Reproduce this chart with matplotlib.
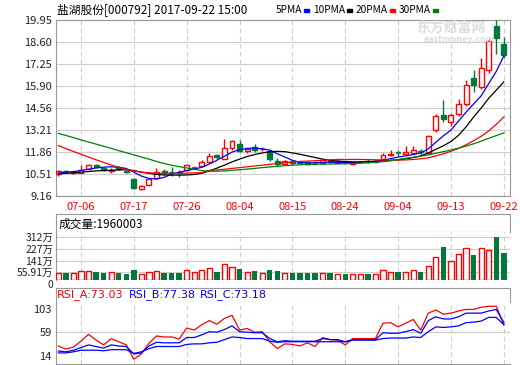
import numpy as np
import pandas as pd
import matplotlib
matplotlib.use('Agg')
import matplotlib.pyplot as plt
from matplotlib.patches import Rectangle

plt.rcParams['font.family'] = ['Noto Sans CJK SC', 'DejaVu Sans']

# 60 trading days, 2017-07-03 .. 2017-09-22
dates = pd.bdate_range('2017-07-03', '2017-09-22')
tick_idx = list(range(3, 60, 7))
tick_lab = [dates[i].strftime('%m-%d') for i in tick_idx]

opens = [10.52, 10.68, 10.60, 10.58, 10.84, 11.07, 10.86, 10.70, 10.93, 10.70,
         10.20, 9.60, 9.86, 10.26, 10.70, 10.66, 10.64, 10.78, 10.90, 10.97,
         11.27, 11.69, 11.44, 12.10, 12.37, 11.92, 12.14, 12.02, 11.89, 11.32,
         11.12, 11.28, 11.22, 11.24, 11.20, 11.18, 11.30, 11.20, 11.28, 11.10,
         11.22, 11.30, 11.24, 11.40, 11.70, 11.80, 11.74, 11.80, 11.90, 11.80,
         13.23, 14.15, 13.70, 14.20, 14.77, 16.41, 15.86, 16.86, 19.56, 18.47]
closes = [10.70, 10.64, 10.64, 10.78, 11.07, 10.95, 10.77, 10.73, 10.82, 10.66,
          9.62, 9.80, 10.20, 10.62, 10.66, 10.62, 10.60, 11.03, 10.93, 11.24,
          11.63, 11.54, 12.10, 12.51, 11.89, 12.05, 11.98, 12.06, 11.40, 11.13,
          11.30, 11.18, 11.18, 11.14, 11.17, 11.38, 11.22, 11.32, 11.24, 11.22,
          11.25, 11.24, 11.32, 11.68, 11.76, 11.78, 11.84, 11.95, 11.86, 12.86,
          14.09, 13.91, 14.15, 14.83, 15.94, 15.96, 17.03, 18.67, 18.84, 17.79]
highs = [10.78, 10.75, 10.72, 11.03, 11.12, 11.12, 10.92, 10.85, 10.98, 10.75,
         10.25, 9.83, 10.25, 10.89, 10.82, 10.93, 10.78, 11.05, 11.00, 11.37,
         11.78, 11.72, 12.67, 12.60, 12.60, 12.12, 12.37, 12.15, 11.98, 11.50,
         11.35, 11.32, 11.30, 11.28, 11.28, 11.42, 11.34, 11.40, 11.32, 11.26,
         11.30, 11.40, 11.35, 11.80, 12.00, 12.00, 12.20, 12.22, 12.05, 12.90,
         14.20, 15.02, 14.25, 15.13, 16.30, 16.88, 17.60, 18.78, 19.95, 18.90]
lows = [10.40, 10.55, 10.50, 10.55, 10.80, 10.92, 10.72, 10.55, 10.78, 10.60,
        9.58, 9.52, 9.82, 10.22, 10.42, 10.40, 10.32, 10.70, 10.80, 10.93,
        11.22, 11.42, 11.40, 12.00, 11.85, 11.82, 11.85, 11.92, 11.32, 11.00,
        11.05, 11.05, 11.10, 11.08, 11.05, 11.15, 11.18, 11.18, 11.15, 11.05,
        11.18, 11.20, 11.22, 11.38, 11.60, 11.62, 11.70, 11.75, 11.70, 11.76,
        13.10, 13.70, 13.45, 14.05, 14.70, 15.55, 15.75, 16.70, 17.85, 17.60]

ma5 = [10.57, 10.62, 10.66, 10.72, 10.80, 10.88, 10.93, 10.95, 10.92, 10.85,
       10.62, 10.38, 10.24, 10.20, 10.30, 10.50, 10.62, 10.72, 10.82, 10.92,
       11.12, 11.35, 11.60, 11.85, 12.00, 12.08, 12.10, 12.05, 11.98, 11.75,
       11.55, 11.35, 11.22, 11.18, 11.20, 11.22, 11.24, 11.22, 11.20, 11.22,
       11.24, 11.26, 11.30, 11.35, 11.45, 11.55, 11.62, 11.70, 11.80, 12.05,
       12.45, 12.85, 13.20, 13.75, 14.30, 14.80, 15.30, 16.05, 16.80, 17.75]
ma10 = [10.52, 10.55, 10.58, 10.62, 10.66, 10.70, 10.72, 10.74, 10.76, 10.77,
        10.72, 10.62, 10.55, 10.48, 10.45, 10.44, 10.44, 10.45, 10.48, 10.55,
        10.70, 10.87, 11.05, 11.25, 11.42, 11.58, 11.70, 11.80, 11.87, 11.90,
        11.88, 11.80, 11.72, 11.62, 11.52, 11.42, 11.35, 11.30, 11.27, 11.25,
        11.24, 11.25, 11.27, 11.30, 11.34, 11.38, 11.44, 11.52, 11.62, 11.80,
        12.02, 12.24, 12.50, 12.88, 13.40, 14.00, 14.55, 15.15, 15.65, 16.15]
ma20 = [12.25, 12.07, 11.89, 11.72, 11.55, 11.38, 11.22, 11.06, 10.92, 10.80,
        10.70, 10.62, 10.58, 10.56, 10.55, 10.55, 10.55, 10.56, 10.58, 10.60,
        10.73, 10.76, 10.80, 10.85, 10.90, 10.95, 11.00, 11.05, 11.10, 11.15,
        11.20, 11.25, 11.28, 11.30, 11.32, 11.35, 11.38, 11.40, 11.40, 11.40,
        11.40, 11.39, 11.38, 11.37, 11.36, 11.36, 11.37, 11.40, 11.44, 11.50,
        11.62, 11.75, 11.90, 12.08, 12.30, 12.55, 12.82, 13.15, 13.55, 14.00]
ma30 = [13.00, 12.87, 12.74, 12.60, 12.47, 12.34, 12.21, 12.08, 11.94, 11.81,
        11.68, 11.55, 11.42, 11.28, 11.15, 11.05, 10.96, 10.88, 10.80, 10.72,
        10.68, 10.68, 10.70, 10.73, 10.77, 10.81, 10.85, 10.90, 10.94, 10.98,
        11.02, 11.05, 11.07, 11.09, 11.10, 11.11, 11.12, 11.13, 11.14, 11.15,
        11.17, 11.20, 11.23, 11.27, 11.32, 11.40, 11.47, 11.53, 11.60, 11.68,
        11.78, 11.88, 11.98, 12.10, 12.22, 12.36, 12.52, 12.70, 12.86, 13.03]

# volume in 万
volume = [49, 49, 49, 65, 65, 58, 51, 56, 51, 44,
          73, 41, 56, 63, 51, 51, 51, 70, 56, 70,
          85, 58, 114, 97, 80, 58, 65, 49, 73, 65,
          49, 51, 51, 51, 51, 49, 51, 41, 44, 41,
          41, 44, 41, 73, 56, 58, 56, 70, 58, 99,
          169, 240, 136, 187, 230, 182, 230, 216, 312, 196]

rsi_a = [33, 27, 31, 42, 55, 44, 35, 47, 41, 35,
         8, 18, 38, 52, 50, 50, 46, 67, 63, 73,
         81, 74, 85, 91, 63, 66, 59, 60, 41, 28,
         37, 36, 33, 39, 32, 49, 45, 44, 35, 47,
         47, 47, 47, 76, 77, 69, 76, 83, 63, 95,
         101, 93, 95, 99, 102, 102, 106, 108, 108, 73.03]
rsi_b = [23.5, 22, 25, 30, 35, 32, 29, 35, 33, 32,
         18, 20, 33, 40, 39, 39, 39, 49, 49, 54,
         60, 59, 64, 71, 60, 59, 58, 58, 47, 41,
         43, 42, 42, 42, 42, 47, 45, 45, 41, 45,
         45, 45, 45, 58, 57, 57, 60, 64, 57, 81,
         88, 84, 84, 88, 95, 95, 95, 99, 102, 77.38]
rsi_c = [20, 20, 22, 25, 25, 25, 24, 26, 26, 26,
         19, 22, 28, 32, 32, 32, 32, 36, 37, 37,
         39, 40, 45, 50, 49, 47, 47, 47, 42, 40,
         41, 41, 41, 41, 41, 41, 41, 41, 41, 44,
         44, 44, 44, 47, 48, 48, 48, 50, 49, 60,
         69, 68, 69, 71, 77, 78, 80, 87, 87, 73.18]

price_ticks = [9.16, 10.51, 11.86, 13.21, 14.56, 15.90, 17.25, 18.60, 19.95]
vol_ticks = [0, 55.91, 141, 227, 312]
vol_labels = ['0', '55.91万', '141万', '227万', '312万']
rsi_ticks = [14, 59, 103]

UP = '#ff0000'
DOWN = '#00793a'
GRID = '#cccccc'
EDGE = '#999999'
W, H = 520, 365


def box(l, t, r, b):
    return [l / W, 1 - b / H, (r - l) / W, (b - t) / H]


fig = plt.figure(figsize=(W / 100, H / 100), dpi=100)
fig.patch.set_facecolor('white')

x = np.arange(len(dates))
xlim = (-0.31, 59.82)

# ---- price panel
ax = fig.add_axes(box(56, 20, 510, 196))
for i in x:
    o, c, h, l = opens[i], closes[i], highs[i], lows[i]
    up = c >= o
    col = UP if up else DOWN
    lo, hi = min(o, c), max(o, c)
    ax.vlines(i, l, lo, color=col, lw=1, zorder=3)
    ax.vlines(i, hi, h, color=col, lw=1, zorder=3)
    if hi - lo < 0.03:
        ax.hlines(o, i - 0.33, i + 0.33, color=col, lw=1.2, zorder=4)
    else:
        ax.add_patch(Rectangle((i - 0.33, lo), 0.66, hi - lo,
                               facecolor='white' if up else DOWN,
                               edgecolor=col, lw=1, zorder=4))
ax.plot(x, ma5, color='#0000ff', lw=0.9, zorder=5)
ax.plot(x, ma10, color='black', lw=0.9, zorder=5)
ax.plot(x, ma20, color='#ff0000', lw=0.9, zorder=5)
ax.plot(x, ma30, color='#008000', lw=0.9, zorder=5)
ax.set_xlim(xlim)
ax.set_ylim(9.16, 19.95)
ax.set_yticks(price_ticks)
ax.set_yticklabels(['%.2f' % v for v in price_ticks])
ax.set_xticks(tick_idx)
ax.set_xticklabels(tick_lab, color=UP)
ax.tick_params(length=0, labelsize=8, pad=3, colors='#222222')
ax.tick_params(axis='x', labelcolor=UP, pad=4)
ax.grid(axis='y', color=GRID, lw=0.8)
ax.grid(axis='x', color=GRID, lw=0.8, ls=(0, (4, 3)))
ax.set_axisbelow(True)
for s in ax.spines.values():
    s.set_color(EDGE)

fig.text(57 / W, 1 - 10 / H, '盐湖股份[000792] 2017-09-22 15:00',
         fontsize=8.5, va='center', ha='left')
legend = [('5PMA', '#0000ff', 276, 304), ('10PMA', 'black', 313, 347),
          ('20PMA', '#ff0000', 356, 390), ('30PMA', '#008000', 399, 433)]
for name, col, px, dx in legend:
    fig.text(px / W, 1 - 10 / H, name, fontsize=7.3, va='center', ha='left')
    fig.patches.append(Rectangle((dx / W, 1 - 12 / H), 5 / W, 3 / H,
                                 color=col, transform=fig.transFigure, figure=fig))
fig.text(416 / W, 1 - 28 / H, '东方财富网', fontsize=10, color='#dddddd',
         va='center', ha='left', weight='bold')
fig.text(424 / W, 1 - 40 / H, 'eastmoney.com', fontsize=6.5, color='#dddddd',
         va='center', ha='left', weight='bold')

# ---- volume header + panel
axvh = fig.add_axes(box(56, 214, 510, 232))
axvh.set_xticks([]); axvh.set_yticks([])
for s in axvh.spines.values():
    s.set_color(EDGE)
axvh.text(0.005, 0.45, '成交量:1960003', fontsize=8.5, va='center', ha='left',
          transform=axvh.transAxes)

axv = fig.add_axes(box(56, 232, 510, 280))
for i in x:
    up = closes[i] >= opens[i]
    if up:
        axv.bar(i, volume[i], width=0.68, facecolor='white', edgecolor=UP, lw=1, zorder=3)
    else:
        axv.bar(i, volume[i], width=0.72, color=DOWN, zorder=3)
axv.set_xlim(xlim)
axv.set_ylim(0, 348)
axv.set_yticks(vol_ticks)
axv.set_yticklabels(vol_labels)
axv.set_xticks(tick_idx)
axv.set_xticklabels([])
axv.tick_params(length=0, labelsize=7.5, pad=2, colors='#222222')
lab0 = axv.get_yticklabels()[0]
lab0.set_va('top')
axv.grid(axis='y', color=GRID, lw=0.8)
axv.grid(axis='x', color=GRID, lw=0.8, ls=(0, (4, 3)))
axv.set_axisbelow(True)
for k in ['right', 'bottom', 'top']:
    axv.spines[k].set_visible(False)
axv.spines['left'].set_color(EDGE)

# ---- RSI header + panel
axrh = fig.add_axes(box(56, 288, 510, 302))
axrh.set_xticks([]); axrh.set_yticks([])
for s in axrh.spines.values():
    s.set_color(EDGE)
for txt, col, px in [('RSI_A:%.2f' % rsi_a[-1], '#ff0000', 57),
                     ('RSI_B:%.2f' % rsi_b[-1], '#0000ff', 129),
                     ('RSI_C:%.2f' % rsi_c[-1], '#0000ff', 200)]:
    fig.text(px / W, 1 - 295 / H, txt, fontsize=8, color=col, va='center',
             ha='left', family='DejaVu Sans')

axr = fig.add_axes(box(56, 302, 510, 364))
axr.plot(x, rsi_a, color='#ff0000', lw=0.9)
axr.plot(x, rsi_b, color='#0000ff', lw=0.9)
axr.plot(x, rsi_c, color='#0000ff', lw=0.9)
axr.set_xlim(xlim)
axr.set_ylim(-1, 116)
axr.set_yticks(rsi_ticks)
axr.set_xticks(tick_idx)
axr.set_xticklabels([])
axr.tick_params(length=0, labelsize=8, pad=3, colors='#222222')
axr.axhline(59, color=GRID, lw=0.8, zorder=0)
axr.grid(axis='x', color=GRID, lw=0.8, ls=(0, (4, 3)))
axr.set_axisbelow(True)
axr.spines['right'].set_visible(False)
axr.spines['top'].set_visible(False)
axr.spines['left'].set_color(EDGE)
axr.spines['bottom'].set_color(EDGE)

fig.savefig('out.png', dpi=100)
